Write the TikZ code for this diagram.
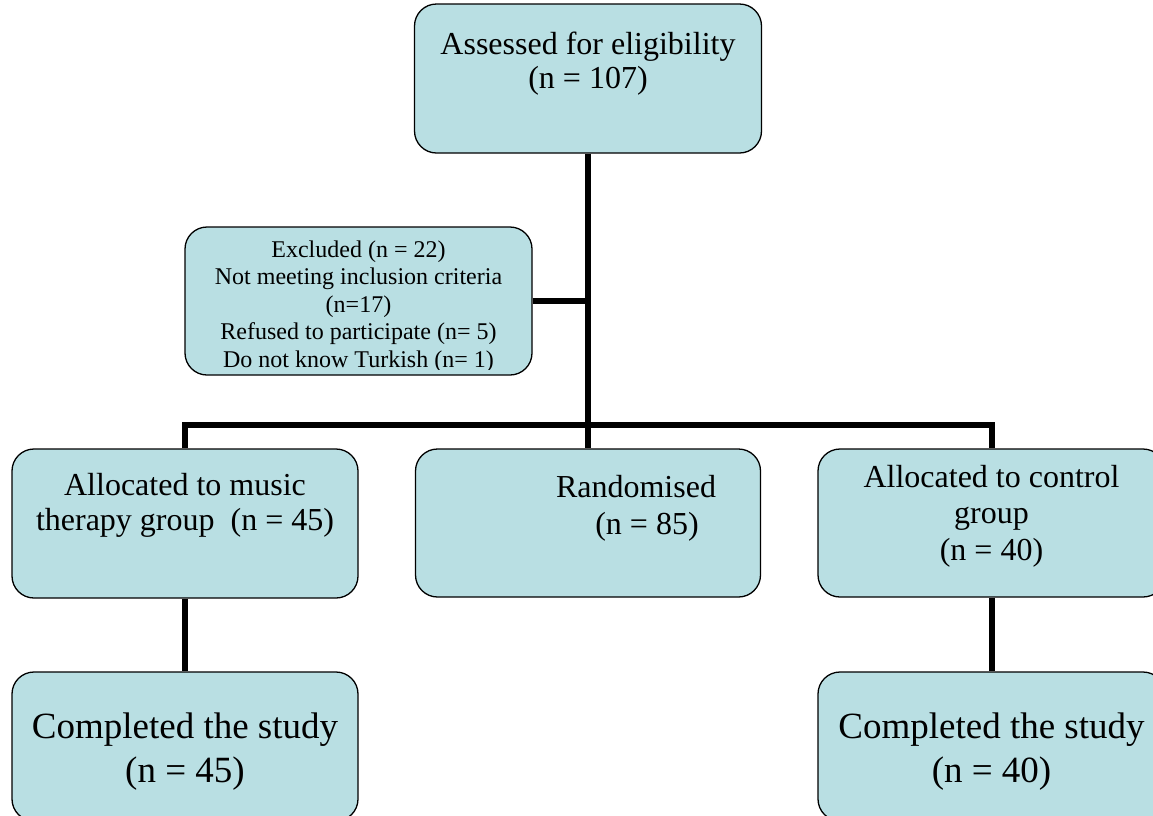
\documentclass[tikz,border=0pt]{standalone}
\usepackage{fontspec}
\setmainfont{Liberation Serif}
\definecolor{boxfill}{RGB}{185,223,227}
\begin{document}
\begin{tikzpicture}[x=1pt,y=-1pt,
  box/.style={draw=black, line width=1.3pt, fill=boxfill, rounded corners=22pt, inner sep=0pt, anchor=center},
  txt/.style={inner sep=0pt, align=center, anchor=north},
  conn/.style={line width=6pt, draw=black}]
\useasboundingbox (0,0) rectangle (1153,815);
\clip (0,0) rectangle (1153,815);
% boxes
\node[box, minimum width=347pt, minimum height=149pt] (assess) at (588,78.5) {};
\node[box, minimum width=347pt, minimum height=148pt] (excl) at (358.5,301) {};
\node[box, minimum width=346pt, minimum height=149pt] (alloc1) at (185,523.5) {};
\node[box, minimum width=345pt, minimum height=148pt] (rand) at (588,523) {};
\node[box, minimum width=347pt, minimum height=148pt] (alloc2) at (991.5,523) {};
\node[box, minimum width=346pt, minimum height=149pt] (comp1) at (185,746.5) {};
\node[box, minimum width=347pt, minimum height=149pt] (comp2) at (991.5,746.5) {};
% junction points
\coordinate (jl) at (185,425);
\coordinate (jm) at (588,425);
\coordinate (jr) at (991.5,425);
% connectors
\draw[conn] (assess.south) -- (jm);
\draw[conn] (alloc1.north) -- (jl) -- (jr) -- (alloc2.north);
\draw[conn] (jm) -- (rand.north);
\draw[conn] (excl.east) -- (excl.east -| jm);
\draw[conn] (alloc1.south) -- (comp1.north);
\draw[conn] (alloc2.south) -- (comp2.north);
% texts
\node[txt, font=\fontsize{32}{34}\selectfont] (assesst) at (588,32) {Assessed for eligibility\\(n = 107)};
\begin{scope}
\clip (187,229) rectangle (530,369);
\node[txt, font=\fontsize{24}{27.5}\selectfont] (exclt) at (358.5,240.5) {Excluded (n = 22)\\Not meeting inclusion criteria\\(n=17)\\Refused to participate (n= 5)\\Do not know Turkish (n= 1)};
\end{scope}
\node[txt, font=\fontsize{32}{35}\selectfont] (alloc1t) at (185,473) {Allocated to music\\therapy group\ \ (n = 45)};
\node[txt, font=\fontsize{32}{37}\selectfont] (randt) at (647,475) {\hspace*{-22pt}Randomised\\(n = 85)};
\node[txt, font=\fontsize{32}{36.5}\selectfont] (alloc2t) at (991.5,465) {Allocated to control\\group\\(n = 40)};
\node[txt, font=\fontsize{37}{44}\selectfont] (comp1t) at (185,712.7) {Completed the study\\(n = 45)};
\node[txt, font=\fontsize{37}{44}\selectfont] (comp2t) at (991.5,712.7) {Completed the study\\(n = 40)};
\end{tikzpicture}
\end{document}
